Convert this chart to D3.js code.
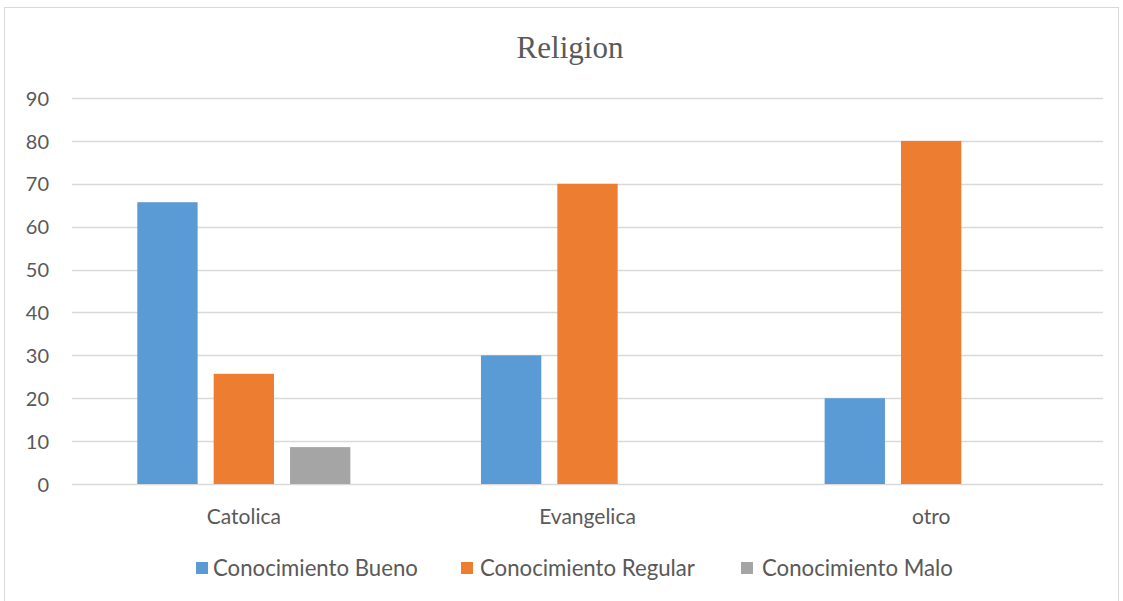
<!DOCTYPE html>
<html>
<head>
<meta charset="utf-8">
<script src="https://cdn.jsdelivr.net/npm/d3@7"></script>
<style>
  html, body { margin: 0; padding: 0; background: #fff; }
  svg { display: block; }
  .lbl { font-family: "Lato", "Noto Sans", sans-serif; fill: #595959; }
</style>
</head>
<body>
<svg id="chart" width="1123" height="601"></svg>
<script>
// Chart data
const categories = ["Catolica", "Evangelica", "otro"];
const seriesNames = ["Conocimiento Bueno", "Conocimiento Regular", "Conocimiento Malo"];
const bueno   = [65.7, 30, 20];
const regular = [25.7, 70, 80];
const malo    = [8.6, 0, 0];
const yTicks  = [0, 10, 20, 30, 40, 50, 60, 70, 80, 90];
const colors  = ["#5B9BD5", "#ED7D31", "#A5A5A5"];

const seriesValues = [bueno, regular, malo];

const svg = d3.select("#chart");
const plot = { left: 72, right: 1103, top: 98, bottom: 484 };

// outer chart frame
svg.append("rect")
  .attr("x", 4.5).attr("y", 7.5)
  .attr("width", 1114).attr("height", 600)
  .attr("fill", "#fff").attr("stroke", "#D9D9D9").attr("stroke-width", 1);

// title
svg.append("text")
  .attr("x", 570).attr("y", 58)
  .attr("text-anchor", "middle")
  .attr("font-family", "'Liberation Serif', 'Times New Roman', serif")
  .attr("font-size", 31)
  .attr("fill", "#595959")
  .text("Religion");

const y = d3.scaleLinear().domain([0, 90]).range([plot.bottom, plot.top]);
const x0 = d3.scaleBand().domain(categories).range([plot.left, plot.right]).padding(0);
const outer = x0.bandwidth() * 0.19;
const x1 = d3.scaleBand().domain(seriesNames)
  .range([outer, x0.bandwidth() - outer]).paddingInner(0.21).paddingOuter(0);

// gridlines
svg.append("g").selectAll("line").data(yTicks).join("line")
  .attr("x1", plot.left).attr("x2", plot.right)
  .attr("y1", d => Math.round(y(d)) + 0.5).attr("y2", d => Math.round(y(d)) + 0.5)
  .attr("stroke", "#D9D9D9").attr("stroke-width", 1.3);

// y axis labels
const yAxis = d3.axisLeft(y).tickValues(yTicks).tickSize(0).tickPadding(0);
const gy = svg.append("g").attr("transform", `translate(49,0)`).call(yAxis);
gy.select(".domain").remove();
gy.selectAll("text").attr("class", "lbl").attr("font-size", 20).attr("dy", "0.36em");

// bars
const rows = categories.map((c, i) => ({ cat: c, vals: seriesNames.map((s, j) => ({ s, j, v: seriesValues[j][i] })) }));
svg.append("g").selectAll("g").data(rows).join("g")
  .attr("transform", d => `translate(${x0(d.cat)},0)`)
  .selectAll("rect").data(d => d.vals.filter(e => e.v > 0)).join("rect")
  .attr("x", d => x1(d.s))
  .attr("width", x1.bandwidth())
  .attr("y", d => y(d.v))
  .attr("height", d => y(0) - y(d.v))
  .attr("fill", d => colors[d.j]);

// x axis labels
const xAxis = d3.axisBottom(x0).tickSize(0).tickPadding(0);
const gx = svg.append("g").attr("transform", `translate(0,524)`).call(xAxis);
gx.select(".domain").remove();
gx.selectAll("text").attr("class", "lbl").attr("font-size", 21).attr("y", 0).attr("dy", 0);

// legend
const legendX = [196, 461, 741];
const textX = [213, 480, 762];
const lg = svg.append("g");
seriesNames.forEach((s, j) => {
  lg.append("rect").attr("x", legendX[j]).attr("y", 562).attr("width", 12).attr("height", 12).attr("fill", colors[j]);
  lg.append("text").attr("class", "lbl").attr("x", textX[j]).attr("y", 576)
    .attr("font-size", 22.2).text(s);
});
</script>
</body>
</html>
